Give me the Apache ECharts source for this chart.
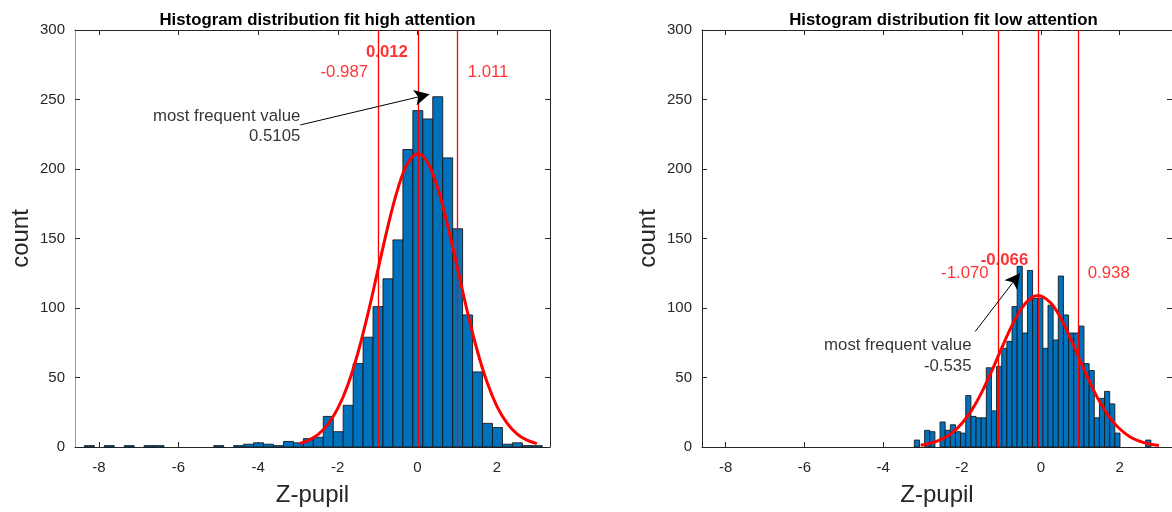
<!DOCTYPE html>
<html>
<head>
<meta charset="utf-8">
<script src="https://cdn.jsdelivr.net/npm/echarts@6/dist/echarts.min.js"></script>
<style>
html,body{margin:0;padding:0;background:#fff;}
#chart{width:1172px;height:512px;}
</style>
</head>
<body>
<div id="chart"></div>
<script>
// ---------- data ----------
var titles = ['Histogram distribution fit high attention', 'Histogram distribution fit low attention'];
var xTickValues = [-8, -6, -4, -2, 0, 2];

// High attention histogram (bin centres start at -8.2395, width 0.25)
var highBinStart = -8.2395;
var highBinWidth = 0.25;
var highCounts = [1,0,1,0,1,0,1,1,0,0,0,0,0,1,0,1,2,3,2,1,4,3,6,7,22,11,30,60,79,101,
                  121,149,214,242,236,252,208,157,95,54,17,14,2,3,1,1];

// Low attention histogram (bin centres start at -3.145, width 0.1305)
var lowBinStart = -3.145;
var lowBinWidth = 0.1305;
var lowCounts = [5,0,12,11,0,18,12,16,11,10,37,22,21,21,57,26,58,71,76,101,
                 130,82,127,107,107,71,102,77,123,95,82,82,87,60,55,21,35,40,31,10,
                 0,0,0,0,0,5];

// Fitted normal curves
var highFitX = [-2.95,-2.75,-2.5,-2.25,-2,-1.75,-1.5,-1.25,-1,-0.75,-0.5,-0.25,0.012,0.25,0.5,0.75,1,1.25,1.5,1.75,2,2.25,2.5,2.75,3.0];
var highFitY = [2.6,4.6,8.9,16.3,27.8,44.5,67.1,95.0,126.3,157.7,185.0,203.9,211,205.1,187.3,160.6,129.4,97.9,69.6,46.5,29.1,17.2,9.5,4.9,2.4];
var lowFitX = [-3.05,-2.75,-2.5,-2.25,-2,-1.75,-1.5,-1.25,-1,-0.75,-0.5,-0.25,-0.066,0.25,0.5,0.75,1,1.25,1.5,1.75,2,2.25,2.5,2.75,3.0];
var lowFitY = [1.3,3.1,5.8,10.2,17.1,26.7,39.3,54.4,70.7,86.4,99.3,107.2,109,103.7,93.0,78.3,62.0,46.2,32.3,21.2,13.1,7.6,4.2,2.1,1.0];

// Mean and mean +/- sd lines
var highLines = [-0.987, 0.012, 1.011];
var lowLines = [-1.070, -0.066, 0.938];

// Mode arrows: [tail, head]
var highArrow = [[-2.94, 231.7], [0.30, 253.7]];
var lowArrow = [[-1.667, 83], [-0.53, 125]];

// Text labels: [x, y, text, side, bold, colour]
var highTexts = [
  [0.012, 284.2, '0.012', 'left', true, 'red'],
  [-0.987, 269.3, '-0.987', 'left', false, 'red'],
  [1.011, 269.3, '1.011', 'right', false, 'red'],
  [-2.94, 230.7, 'most frequent value\n0.5105', 'left', false, 'black']
];
var lowTexts = [
  [-0.066, 134.5, '-0.066', 'left', true, 'red'],
  [-1.070, 125.2, '-1.070', 'left', false, 'red'],
  [0.938, 125.2, '0.938', 'right', false, 'red'],
  [-1.76, 65.5, 'most frequent value\n-0.535', 'left', false, 'black']
];

// ---------- chart ----------
var FONT = '"Liberation Sans", Arial, sans-serif';
var RED = '#ff0000';
var DARK = '#262626';

function histRender(width) {
  return function (params, api) {
    var c = api.value(0), v = api.value(1);
    if (!v) return null;
    var p0 = api.coord([c - width / 2, v]);
    var p1 = api.coord([c + width / 2, 0]);
    return {
      type: 'rect',
      shape: {x: p0[0], y: p0[1], width: p1[0] - p0[0], height: p1[1] - p0[1]},
      style: {fill: '#0072BD', stroke: '#1a1a1a', lineWidth: 0.9}
    };
  };
}
function binData(start, width, counts) {
  return counts.map(function (v, i) { return [start + i * width, v]; });
}
function zip(xs, ys) { return xs.map(function (x, i) { return [x, ys[i]]; }); }

function xAxes(grid) {
  return [
    {
      gridIndex: grid, type: 'value', min: -8.6, max: 3.33, position: 'bottom',
      name: 'Z-pupil', nameLocation: 'middle', nameGap: 36,
      nameTextStyle: {fontFamily: FONT, fontSize: 24, color: DARK},
      axisLine: {show: true, onZero: false, lineStyle: {color: DARK, width: 1}},
      axisTick: {show: true, inside: true, length: 5, customValues: xTickValues, lineStyle: {color: DARK}},
      axisLabel: {show: true, customValues: xTickValues, margin: 13, fontFamily: FONT, fontSize: 15, color: DARK},
      splitLine: {show: false}
    },
    {
      gridIndex: grid, type: 'value', min: -8.6, max: 3.33, position: 'top',
      axisLine: {show: true, onZero: false, lineStyle: {color: DARK, width: 1}},
      axisTick: {show: true, inside: true, length: 5, customValues: xTickValues, lineStyle: {color: DARK}},
      axisLabel: {show: false},
      splitLine: {show: false}
    }
  ];
}
function yAxes(grid, leftAxisColor) {
  return [
    {
      gridIndex: grid, type: 'value', min: 0, max: 300, interval: 50, position: 'left',
      name: 'count', nameLocation: 'middle', nameGap: 42, nameRotate: 90,
      nameTextStyle: {fontFamily: FONT, fontSize: 24, color: DARK},
      axisLine: {show: true, onZero: false, lineStyle: {color: leftAxisColor, width: 1}},
      axisTick: {show: true, inside: true, length: 5, lineStyle: {color: DARK}},
      axisLabel: {show: true, margin: 10, fontFamily: FONT, fontSize: 15, color: DARK},
      splitLine: {show: false}
    },
    {
      gridIndex: grid, type: 'value', min: 0, max: 300, interval: 50, position: 'right',
      axisLine: {show: true, onZero: false, lineStyle: {color: DARK, width: 1}},
      axisTick: {show: true, inside: true, length: 5, lineStyle: {color: DARK}},
      axisLabel: {show: false},
      splitLine: {show: false}
    }
  ];
}

function panelSeries(axisIdx, binStart, binWidth, counts, fitX, fitY, lines, arrow, texts) {
  var xi = axisIdx, yi = axisIdx;
  return [
    {
      type: 'custom', xAxisIndex: xi, yAxisIndex: yi,
      renderItem: histRender(binWidth),
      data: binData(binStart, binWidth, counts),
      encode: {x: 0, y: 1}, z: 2, silent: true
    },
    {
      type: 'line', xAxisIndex: xi, yAxisIndex: yi,
      data: zip(fitX, fitY), smooth: 0.35, showSymbol: false, symbol: 'none',
      lineStyle: {color: RED, width: 3}, z: 4, silent: true,
      markLine: {
        silent: true, symbol: 'none', animation: false,
        label: {show: false},
        lineStyle: {color: RED, width: 1.3, type: 'solid'},
        data: lines.map(function (v) { return {xAxis: v}; })
      }
    },
    {
      type: 'scatter', xAxisIndex: xi, yAxisIndex: yi, symbolSize: 0, z: 6, silent: true,
      data: texts.map(function (t) {
        return {
          value: [t[0], t[1]],
          label: {
            show: true, formatter: t[2], position: t[3],
            distance: t[5] === 'black' ? 0 : 10,
            align: t[3] === 'left' ? 'right' : 'left',
            fontFamily: FONT, fontSize: 16.8, lineHeight: 20.7,
            fontWeight: t[4] ? 'bold' : 'normal',
            color: t[5] === 'red' ? RED : '#000'
          }
        };
      }),
      markLine: {
        silent: true, animation: false,
        label: {show: false},
        lineStyle: {color: '#000', width: 1, type: 'solid'},
        symbolSize: [12, 15],
        data: [[
          {coord: arrow[0], symbol: 'none'},
          {coord: arrow[1], symbol: 'arrow'}
        ]]
      }
    }
  ];
}

var chart = echarts.init(document.getElementById('chart'), null, {renderer: 'canvas'});
var option = {
  animation: false,
  backgroundColor: '#ffffff',
  title: [
    {text: titles[0], left: 312.5, top: 7, textAlign: 'center',
     textStyle: {fontFamily: FONT, fontSize: 16.8, fontWeight: 'bold', color: '#000'}},
    {text: titles[1], left: 938.5, top: 7, textAlign: 'center',
     textStyle: {fontFamily: FONT, fontSize: 16.8, fontWeight: 'bold', color: '#000'}}
  ],
  grid: [
    {left: 75, top: 30, width: 475, height: 417},
    {left: 702, top: 30, width: 473, height: 417}
  ],
  xAxis: xAxes(0).concat(xAxes(1)),
  yAxis: yAxes(0, '#9a9a9a').concat(yAxes(1, DARK)),
  series: panelSeries(0, highBinStart, highBinWidth, highCounts, highFitX, highFitY, highLines, highArrow, highTexts)
    .concat(panelSeries(2, lowBinStart, lowBinWidth, lowCounts, lowFitX, lowFitY, lowLines, lowArrow, lowTexts))
};
chart.setOption(option);
</script>
</body>
</html>
